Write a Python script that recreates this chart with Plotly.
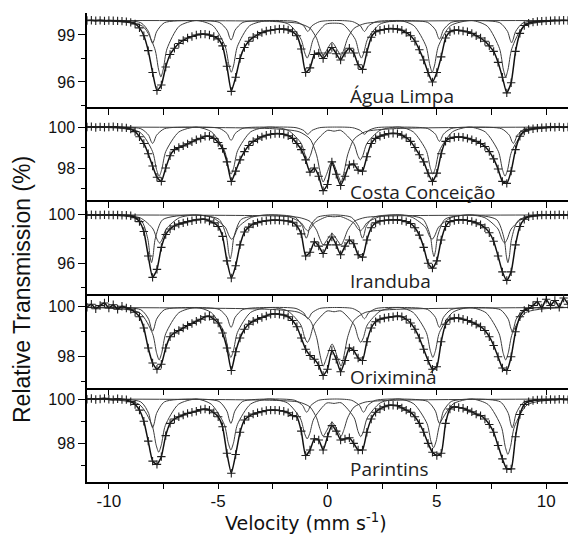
import plotly.graph_objects as go

# ---------------- data ----------------
VELOCITY = [-11.0, -10.8, -10.6, -10.4, -10.2, -10.0, -9.8, -9.6, -9.4, -9.2,
            -9.0, -8.8, -8.6, -8.4, -8.2, -8.0, -7.8, -7.6, -7.4, -7.2,
            -7.0, -6.8, -6.6, -6.4, -6.2, -6.0, -5.8, -5.6, -5.4, -5.2,
            -5.0, -4.8, -4.6, -4.4, -4.2, -4.0, -3.8, -3.6, -3.4, -3.2,
            -3.0, -2.8, -2.6, -2.4, -2.2, -2.0, -1.8, -1.6, -1.4, -1.2,
            -1.0, -0.8, -0.6, -0.4, -0.2, 0.0, 0.2, 0.4, 0.6, 0.8,
            1.0, 1.2, 1.4, 1.6, 1.8, 2.0, 2.2, 2.4, 2.6, 2.8,
            3.0, 3.2, 3.4, 3.6, 3.8, 4.0, 4.2, 4.4, 4.6, 4.8,
            5.0, 5.2, 5.4, 5.6, 5.8, 6.0, 6.2, 6.4, 6.6, 6.8,
            7.0, 7.2, 7.4, 7.6, 7.8, 8.0, 8.2, 8.4, 8.6, 8.8,
            9.0, 9.2, 9.4, 9.6, 9.8, 10.0, 10.2, 10.4, 10.6, 10.8, 11.0]

AGUA_LIMPA = [99.92, 99.94, 99.91, 99.93, 99.90, 99.92, 99.91, 99.90, 99.88, 99.85,
              99.80, 99.70, 99.45, 98.95, 98.00, 96.60, 95.45, 95.80, 96.95, 97.75,
              98.15, 98.45, 98.65, 98.80, 98.90, 99.00, 99.05, 99.05, 99.00, 98.90,
              98.75, 98.30, 97.00, 95.40, 96.30, 97.50, 98.20, 98.60, 98.85, 99.00,
              99.15, 99.25, 99.30, 99.35, 99.38, 99.38, 99.32, 99.20, 98.95, 98.10,
              96.60, 96.90, 97.75, 97.85, 97.50, 97.85, 98.20, 97.80, 97.40, 97.85,
              98.15, 97.85, 97.10, 96.80, 97.90, 98.85, 99.20, 99.30, 99.35, 99.40,
              99.40, 99.38, 99.30, 99.15, 98.95, 98.60, 98.05, 97.40, 96.60, 96.00,
              96.60, 97.60, 98.80, 99.20, 99.30, 99.30, 99.25, 99.20, 99.10, 98.95,
              98.80, 98.60, 98.30, 97.95, 97.25, 96.30, 95.30, 95.95, 97.95, 99.10,
              99.60, 99.75, 99.82, 99.86, 99.88, 99.90, 99.91, 99.93, 99.92, 99.94, 99.92]

COSTA_CONCEICAO = [100.00, 100.02, 99.98, 100.01, 99.99, 100.00, 100.02, 99.99, 99.98, 99.96,
                   99.90, 99.78, 99.53, 99.20, 98.70, 98.10, 97.55, 97.35, 98.00, 98.60,
                   98.90, 99.00, 99.08, 99.18, 99.28, 99.38, 99.45, 99.55, 99.55, 99.45,
                   99.25, 98.95, 98.30, 97.35, 97.85, 98.40, 98.80, 99.10, 99.30, 99.42,
                   99.52, 99.60, 99.65, 99.68, 99.68, 99.65, 99.58, 99.45, 99.20, 98.90,
                   98.40, 97.80, 98.00, 97.60, 96.90, 97.20, 98.30, 97.70, 97.15, 97.60,
                   98.15, 98.20, 97.90, 97.85, 98.55, 99.20, 99.45, 99.55, 99.62, 99.68,
                   99.70, 99.68, 99.60, 99.48, 99.30, 99.00, 98.65, 98.30, 97.75, 97.35,
                   97.75, 98.70, 99.30, 99.45, 99.50, 99.52, 99.50, 99.45, 99.38, 99.30,
                   99.20, 99.05, 98.80, 98.45, 97.95, 97.35, 97.25, 97.85, 98.90, 99.55,
                   99.80, 99.88, 99.92, 99.95, 99.97, 99.98, 100.00, 99.99, 100.01, 99.98, 100.00]

IRANDUBA = [99.95, 99.96, 99.94, 99.95, 99.96, 99.94, 99.95, 99.95, 99.93, 99.92,
            99.88, 99.72, 99.40, 98.60, 96.60, 94.85, 95.50, 97.30, 98.35, 98.80,
            99.05, 99.20, 99.30, 99.40, 99.48, 99.55, 99.60, 99.60, 99.45, 99.30,
            99.00, 98.20, 96.20, 94.80, 95.80, 97.50, 98.55, 98.95, 99.20, 99.32,
            99.42, 99.48, 99.52, 99.53, 99.52, 99.50, 99.45, 99.35, 99.05, 98.40,
            96.60, 96.90, 97.75, 97.40, 96.80, 97.50, 98.15, 97.50, 96.70, 97.40,
            97.90, 97.60, 96.70, 96.50, 97.90, 98.90, 99.30, 99.45, 99.50, 99.53,
            99.55, 99.55, 99.50, 99.40, 99.25, 98.90, 98.30, 97.30, 96.00, 95.60,
            96.20, 97.90, 99.00, 99.40, 99.50, 99.55, 99.55, 99.50, 99.42, 99.30,
            99.15, 98.90, 98.50, 97.80, 96.60, 95.30, 94.60, 95.30, 97.50, 99.00,
            99.60, 99.80, 99.88, 99.92, 99.94, 99.95, 99.94, 99.95, 99.96, 99.95, 99.95]

ORIXIMINA = [99.98, 100.10, 99.92, 100.05, 100.15, 99.95, 100.08, 99.90, 100.02, 99.95,
             99.90, 99.78, 99.60, 99.15, 98.35, 97.75, 97.50, 97.70, 98.35, 98.80,
             98.95, 99.05, 99.15, 99.25, 99.33, 99.42, 99.50, 99.60, 99.62, 99.50,
             99.35, 98.95, 98.35, 97.45, 98.20, 98.75, 99.10, 99.30, 99.42, 99.50,
             99.57, 99.63, 99.70, 99.72, 99.70, 99.67, 99.60, 99.45, 99.20, 98.75,
             98.30, 98.05, 97.90, 97.65, 97.25, 97.50, 98.25, 97.90, 97.40, 97.85,
             98.35, 98.25, 97.95, 97.85, 98.60, 99.15, 99.40, 99.50, 99.55, 99.58,
             99.60, 99.63, 99.60, 99.50, 99.35, 99.10, 98.75, 98.30, 97.85, 97.50,
             97.60, 98.60, 99.30, 99.50, 99.55, 99.55, 99.50, 99.45, 99.38, 99.30,
             99.20, 99.05, 98.80, 98.45, 98.00, 97.55, 97.45, 98.00, 99.00, 99.60,
             99.85, 99.93, 100.05, 100.20, 99.95, 100.30, 100.05, 100.25, 99.98, 100.35, 100.10]

PARINTINS = [99.99, 100.02, 99.98, 100.00, 100.03, 99.99, 99.97, 100.01, 99.98, 99.97,
             99.88, 99.75, 99.50, 99.00, 98.10, 97.20, 97.05, 97.40, 98.35, 98.90,
             99.10, 99.20, 99.28, 99.35, 99.40, 99.45, 99.52, 99.55, 99.50, 99.38,
             99.20, 98.75, 97.55, 96.65, 97.50, 98.50, 99.05, 99.22, 99.32, 99.38,
             99.43, 99.48, 99.50, 99.50, 99.48, 99.45, 99.38, 99.25, 99.20, 98.55,
             97.45, 97.70, 98.20, 98.15, 97.70, 98.30, 98.80, 98.55, 98.15, 98.20,
             98.25, 98.00, 97.70, 97.70, 98.50, 99.10, 99.40, 99.55, 99.65, 99.72,
             99.72, 99.70, 99.60, 99.50, 99.40, 99.20, 98.90, 98.50, 98.00, 97.60,
             97.45, 97.55, 98.90, 99.55, 99.65, 99.62, 99.58, 99.50, 99.42, 99.32,
             99.25, 99.10, 98.85, 98.50, 97.90, 97.30, 96.85, 96.85, 98.30, 99.30,
             99.75, 99.88, 99.93, 99.96, 99.97, 99.96, 99.98, 99.97, 99.99, 99.98, 99.97]

# fitted sub-spectra (velocity, transmission)
DOUBLET_V = [-11.0, -2.5, -1.3, -0.8, -0.5, -0.35, -0.2, -0.05, 0.21, 0.47, 0.62, 0.77, 0.92, 1.22, 1.72, 3.0, 11.0]

AGUA_SEXTET_A_V = [-11.0, -8.54, -8.18, -8.07, -8.0, -7.93, -7.82, -7.46, -6.2, -4.95, -4.59, -4.48, -4.41, -4.34, -4.23, -3.87, -2.65, -1.44, -1.08, -0.97, -0.9, -0.83, -0.72, -0.36, 0.4, 1.15, 1.51, 1.62, 1.69, 1.76, 1.87, 2.23, 3.4, 4.58, 4.94, 5.05, 5.12, 5.19, 5.3, 5.66, 6.8, 7.88, 8.24, 8.35, 8.42, 8.49, 8.6, 8.96, 11.0]
AGUA_SEXTET_A_T = [99.92, 99.78, 99.2, 98.67, 98.47, 98.67, 99.2, 99.78, 99.92, 99.8, 99.3, 98.84, 98.67, 98.84, 99.3, 99.8, 99.92, 99.85, 99.57, 99.32, 99.22, 99.32, 99.57, 99.85, 99.92, 99.85, 99.57, 99.32, 99.22, 99.32, 99.57, 99.85, 99.92, 99.8, 99.32, 98.89, 98.72, 98.89, 99.32, 99.8, 99.92, 99.78, 99.21, 98.7, 98.5, 98.7, 99.21, 99.78, 99.92]
AGUA_SEXTET_B_V = [-11.0, -8.46, -7.9, -7.73, -7.62, -7.51, -7.34, -6.78, -6.0, -5.24, -4.68, -4.51, -4.4, -4.29, -4.12, -3.56, -2.7, -1.77, -1.21, -1.04, -0.93, -0.82, -0.65, -0.09, 0.31, 0.71, 1.27, 1.44, 1.55, 1.66, 1.83, 2.39, 3.3, 3.95, 4.51, 4.68, 4.79, 4.9, 5.07, 5.63, 6.6, 7.31, 7.87, 8.04, 8.15, 8.26, 8.43, 8.99, 11.0]
AGUA_SEXTET_B_T = [99.92, 99.56, 98.12, 96.82, 96.32, 96.82, 98.12, 99.56, 99.92, 99.59, 98.27, 97.08, 96.62, 97.08, 98.27, 99.59, 99.92, 99.68, 98.72, 97.85, 97.52, 97.85, 98.72, 99.68, 99.75, 99.68, 98.72, 97.85, 97.52, 97.85, 98.72, 99.68, 99.92, 99.59, 98.27, 97.08, 96.62, 97.08, 98.27, 99.59, 99.92, 99.56, 98.12, 96.82, 96.32, 96.82, 98.12, 99.56, 99.92]
AGUA_DOUBLET_T = [99.92, 99.86, 99.73, 99.43, 98.79, 98.15, 97.68, 97.99, 98.53, 97.99, 97.68, 98.15, 98.79, 99.43, 99.73, 99.86, 99.92]

COSTA_SEXTET_A_V = [-11.0, -8.54, -8.18, -8.07, -8.0, -7.93, -7.82, -7.46, -6.2, -4.95, -4.59, -4.48, -4.41, -4.34, -4.23, -3.87, -2.65, -1.44, -1.08, -0.97, -0.9, -0.83, -0.72, -0.36, 0.4, 1.15, 1.51, 1.62, 1.69, 1.76, 1.87, 2.23, 3.4, 4.58, 4.94, 5.05, 5.12, 5.19, 5.3, 5.66, 6.8, 7.96, 8.32, 8.43, 8.5, 8.57, 8.68, 9.04, 11.0]
COSTA_SEXTET_A_T = [100, 99.92, 99.6, 99.31, 99.2, 99.31, 99.6, 99.92, 100, 99.94, 99.68, 99.44, 99.35, 99.44, 99.68, 99.94, 100, 99.97, 99.83, 99.7, 99.65, 99.7, 99.83, 99.97, 100, 99.97, 99.83, 99.7, 99.65, 99.7, 99.83, 99.97, 100, 99.93, 99.65, 99.4, 99.3, 99.4, 99.65, 99.93, 100, 99.92, 99.6, 99.31, 99.2, 99.31, 99.6, 99.92, 100]
COSTA_SEXTET_B_V = [-11.0, -8.6, -8.0, -7.82, -7.7, -7.58, -7.4, -6.8, -6.0, -5.31, -4.71, -4.53, -4.41, -4.29, -4.11, -3.51, -2.7, -1.8, -1.2, -1.02, -0.9, -0.78, -0.6, 0.0, 0.3, 0.6, 1.2, 1.38, 1.5, 1.62, 1.8, 2.4, 3.3, 3.92, 4.52, 4.7, 4.82, 4.94, 5.12, 5.72, 6.5, 7.22, 7.82, 8.0, 8.12, 8.24, 8.42, 9.02, 11.0]
COSTA_SEXTET_B_T = [100, 99.76, 98.8, 97.93, 97.6, 97.93, 98.8, 99.76, 100, 99.77, 98.85, 98.02, 97.7, 98.02, 98.85, 99.77, 100, 99.84, 99.2, 98.62, 98.4, 98.62, 99.2, 99.84, 99.8, 99.84, 99.2, 98.62, 98.4, 98.62, 99.2, 99.84, 100, 99.77, 98.85, 98.02, 97.7, 98.02, 98.85, 99.77, 100, 99.76, 98.8, 97.93, 97.6, 97.93, 98.8, 99.76, 100]
COSTA_DOUBLET_T = [100, 99.92, 99.77, 99.42, 98.64, 97.87, 97.32, 97.68, 98.33, 97.68, 97.32, 97.87, 98.64, 99.42, 99.77, 99.92, 100]

IRANDUBA_SEXTET_A_V = [-11.0, -8.56, -8.22, -8.12, -8.05, -7.98, -7.88, -7.54, -6.2, -4.96, -4.62, -4.52, -4.45, -4.38, -4.28, -3.94, -2.7, -1.48, -1.14, -1.04, -0.97, -0.9, -0.8, -0.46, 0.3, 1.09, 1.43, 1.53, 1.6, 1.67, 1.77, 2.11, 3.4, 4.36, 4.7, 4.8, 4.87, 4.94, 5.04, 5.38, 6.6, 7.74, 8.08, 8.18, 8.25, 8.32, 8.42, 8.76, 11.0]
IRANDUBA_SEXTET_A_T = [99.95, 99.56, 98.0, 96.59, 96.05, 96.59, 98.0, 99.56, 99.95, 99.59, 98.15, 96.85, 96.35, 96.85, 98.15, 99.59, 99.95, 99.76, 99.0, 98.31, 98.05, 98.31, 99.0, 99.76, 99.95, 99.76, 99.0, 98.31, 98.05, 98.31, 99.0, 99.76, 99.95, 99.61, 98.25, 97.02, 96.55, 97.02, 98.25, 99.61, 99.95, 99.56, 98.0, 96.59, 96.05, 96.59, 98.0, 99.56, 99.95]
IRANDUBA_SEXTET_B_V = [-11.0, -8.58, -7.98, -7.8, -7.68, -7.56, -7.38, -6.78, -6.0, -5.28, -4.68, -4.5, -4.38, -4.26, -4.08, -3.48, -2.7, -1.8, -1.2, -1.02, -0.9, -0.78, -0.6, 0.0, 0.3, 0.6, 1.2, 1.38, 1.5, 1.62, 1.8, 2.4, 3.3, 3.88, 4.48, 4.66, 4.78, 4.9, 5.08, 5.68, 6.5, 7.2, 7.8, 7.98, 8.1, 8.22, 8.4, 9.0, 11.0]
IRANDUBA_SEXTET_B_T = [99.95, 99.72, 98.8, 97.97, 97.65, 97.97, 98.8, 99.72, 99.95, 99.75, 98.95, 98.23, 97.95, 98.23, 98.95, 99.75, 99.95, 99.82, 99.3, 98.83, 98.65, 98.83, 99.3, 99.82, 99.8, 99.82, 99.3, 98.83, 98.65, 98.83, 99.3, 99.82, 99.95, 99.75, 98.95, 98.23, 97.95, 98.23, 98.95, 99.75, 99.95, 99.72, 98.8, 97.97, 97.65, 97.97, 98.8, 99.72, 99.95]
IRANDUBA_DOUBLET_T = [99.95, 99.87, 99.74, 99.42, 98.7, 98.0, 97.49, 97.83, 98.42, 97.83, 97.49, 98.0, 98.7, 99.42, 99.74, 99.87, 99.95]

ORIX_SEXTET_A_V = [-11.0, -8.54, -8.18, -8.07, -8.0, -7.93, -7.82, -7.46, -6.2, -4.95, -4.59, -4.48, -4.41, -4.34, -4.23, -3.87, -2.65, -1.44, -1.08, -0.97, -0.9, -0.83, -0.72, -0.36, 0.4, 1.15, 1.51, 1.62, 1.69, 1.76, 1.87, 2.23, 3.4, 4.58, 4.94, 5.05, 5.12, 5.19, 5.3, 5.66, 6.8, 7.91, 8.27, 8.38, 8.45, 8.52, 8.63, 8.99, 11.0]
ORIX_SEXTET_A_T = [99.97, 99.88, 99.5, 99.15, 99.02, 99.15, 99.5, 99.88, 99.97, 99.89, 99.57, 99.28, 99.17, 99.28, 99.57, 99.89, 99.97, 99.93, 99.75, 99.58, 99.52, 99.58, 99.75, 99.93, 99.97, 99.93, 99.75, 99.58, 99.52, 99.58, 99.75, 99.93, 99.97, 99.89, 99.57, 99.28, 99.17, 99.28, 99.57, 99.89, 99.97, 99.88, 99.5, 99.15, 99.02, 99.15, 99.5, 99.88, 99.97]
ORIX_SEXTET_B_V = [-11.0, -8.6, -8.0, -7.82, -7.7, -7.58, -7.4, -6.8, -6.0, -5.32, -4.72, -4.54, -4.42, -4.3, -4.12, -3.52, -2.7, -1.82, -1.22, -1.04, -0.92, -0.8, -0.62, -0.02, 0.3, 0.62, 1.22, 1.4, 1.52, 1.64, 1.82, 2.42, 3.3, 3.92, 4.52, 4.7, 4.82, 4.94, 5.12, 5.72, 6.5, 7.25, 7.85, 8.03, 8.15, 8.27, 8.45, 9.05, 11.0]
ORIX_SEXTET_B_T = [99.97, 99.76, 98.92, 98.16, 97.87, 98.16, 98.92, 99.76, 99.97, 99.77, 98.97, 98.25, 97.97, 98.25, 98.97, 99.77, 99.97, 99.83, 99.27, 98.76, 98.57, 98.76, 99.27, 99.83, 99.8, 99.83, 99.27, 98.76, 98.57, 98.76, 99.27, 99.83, 99.97, 99.77, 98.97, 98.25, 97.97, 98.25, 98.97, 99.77, 99.97, 99.76, 98.92, 98.16, 97.87, 98.16, 98.92, 99.76, 99.97]
ORIX_DOUBLET_T = [99.97, 99.89, 99.77, 99.46, 98.78, 98.11, 97.62, 97.94, 98.51, 97.94, 97.62, 98.11, 98.78, 99.46, 99.77, 99.89, 99.97]

PARIN_SEXTET_A_V = [-11.0, -8.54, -8.18, -8.07, -8.0, -7.93, -7.82, -7.46, -6.2, -4.96, -4.6, -4.49, -4.42, -4.35, -4.24, -3.88, -2.65, -1.49, -1.13, -1.02, -0.95, -0.88, -0.77, -0.41, 0.4, 1.11, 1.47, 1.58, 1.65, 1.72, 1.83, 2.19, 3.4, 4.58, 4.94, 5.05, 5.12, 5.19, 5.3, 5.66, 6.8, 7.91, 8.27, 8.38, 8.45, 8.52, 8.63, 8.99, 11.0]
PARIN_SEXTET_A_T = [100, 99.87, 99.35, 98.88, 98.7, 98.88, 99.35, 99.87, 100, 99.89, 99.45, 99.05, 98.9, 99.05, 99.45, 99.89, 100, 99.94, 99.7, 99.48, 99.4, 99.48, 99.7, 99.94, 100, 99.94, 99.7, 99.48, 99.4, 99.48, 99.7, 99.94, 100, 99.89, 99.45, 99.05, 98.9, 99.05, 99.45, 99.89, 100, 99.87, 99.35, 98.88, 98.7, 98.88, 99.35, 99.87, 100]
PARIN_SEXTET_B_V = [-11.0, -8.62, -8.02, -7.84, -7.72, -7.6, -7.42, -6.82, -6.0, -5.32, -4.72, -4.54, -4.42, -4.3, -4.12, -3.52, -2.7, -1.83, -1.23, -1.05, -0.93, -0.81, -0.63, -0.03, 0.3, 0.62, 1.22, 1.4, 1.52, 1.64, 1.82, 2.42, 3.3, 3.95, 4.55, 4.73, 4.85, 4.97, 5.15, 5.75, 6.6, 7.35, 7.95, 8.13, 8.25, 8.37, 8.55, 9.15, 11.0]
PARIN_SEXTET_B_T = [100, 99.76, 98.8, 97.93, 97.6, 97.93, 98.8, 99.76, 100, 99.77, 98.85, 98.02, 97.7, 98.02, 98.85, 99.77, 100, 99.82, 99.1, 98.45, 98.2, 98.45, 99.1, 99.82, 99.8, 99.83, 99.15, 98.53, 98.3, 98.53, 99.15, 99.83, 100, 99.78, 98.9, 98.1, 97.8, 98.1, 98.9, 99.78, 100, 99.75, 98.75, 97.85, 97.5, 97.85, 98.75, 99.75, 100]
PARIN_DOUBLET_T = [100, 99.94, 99.86, 99.64, 99.15, 98.67, 98.32, 98.55, 98.95, 98.55, 98.32, 98.67, 99.15, 99.64, 99.86, 99.94, 100]

SAMPLE_NAMES = ["Água Limpa", "Costa Conceição", "Iranduba", "Oriximiná", "Parintins"]
SPECTRA = [AGUA_LIMPA, COSTA_CONCEICAO, IRANDUBA, ORIXIMINA, PARINTINS]
SUBSPECTRA = [
    [(AGUA_SEXTET_A_V, AGUA_SEXTET_A_T), (AGUA_SEXTET_B_V, AGUA_SEXTET_B_T), (DOUBLET_V, AGUA_DOUBLET_T)],
    [(COSTA_SEXTET_A_V, COSTA_SEXTET_A_T), (COSTA_SEXTET_B_V, COSTA_SEXTET_B_T), (DOUBLET_V, COSTA_DOUBLET_T)],
    [(IRANDUBA_SEXTET_A_V, IRANDUBA_SEXTET_A_T), (IRANDUBA_SEXTET_B_V, IRANDUBA_SEXTET_B_T), (DOUBLET_V, IRANDUBA_DOUBLET_T)],
    [(ORIX_SEXTET_A_V, ORIX_SEXTET_A_T), (ORIX_SEXTET_B_V, ORIX_SEXTET_B_T), (DOUBLET_V, ORIX_DOUBLET_T)],
    [(PARIN_SEXTET_A_V, PARIN_SEXTET_A_T), (PARIN_SEXTET_B_V, PARIN_SEXTET_B_T), (DOUBLET_V, PARIN_DOUBLET_T)],
]
Y_MAJOR_TICKS = [[96, 99], [98, 100], [96, 100], [98, 100], [98, 100]]
X_TICKS = [-10, -5, 0, 5, 10]
X_TICK_LABELS = ["-10", "-5", "0", "5", "10"]

# ---------------- layout geometry ----------------
W, H = 568, 536
PANEL_PX = [(13, 107), (107, 200), (200, 294), (294, 387.7), (387.7, 481.7)]
Y_RANGES = [(94.40, 100.40), (96.44, 100.98), (93.49, 101.17), (96.76, 100.51), (96.27, 100.51)]
Y_MINOR = [1.5, 1, 2, 1, 1]
LABEL_PX = [96, 192, 281, 377, 469]

fig = go.Figure()
layout = dict(
    width=W, height=H,
    margin=dict(l=87, r=0, t=0, b=0),
    paper_bgcolor="white", plot_bgcolor="white",
    showlegend=False,
    annotations=[],
)

for i in range(5):
    k = i + 1
    xa = "x" if k == 1 else f"x{k}"
    ya = "y" if k == 1 else f"y{k}"
    for cv, ct in SUBSPECTRA[i]:
        fig.add_trace(go.Scatter(
            x=cv, y=ct, mode="lines", xaxis=xa, yaxis=ya,
            line=dict(color="#3c3c3c", width=1, shape="spline", smoothing=0.7),
            hoverinfo="skip"))
    fig.add_trace(go.Scatter(
        x=VELOCITY, y=SPECTRA[i], mode="lines+markers", xaxis=xa, yaxis=ya,
        line=dict(color="#111111", width=1.5, shape="spline", smoothing=0.5),
        marker=dict(symbol="cross-thin", size=6, line=dict(width=1.1, color="#1e1e1e")),
        hoverinfo="skip"))

    top_px, bot_px = PANEL_PX[i]
    dom = [1 - bot_px / H, 1 - top_px / H]
    xkey = "xaxis" if k == 1 else f"xaxis{k}"
    ykey = "yaxis" if k == 1 else f"yaxis{k}"
    layout[xkey] = dict(
        domain=[0, 1], anchor=ya, range=[-11, 11],
        showline=True, linecolor="black", linewidth=1.5, mirror=False,
        ticks="outside", ticklen=6, tickwidth=1.3, tickcolor="black",
        tickmode="array", tickvals=X_TICKS, ticktext=X_TICK_LABELS,
        showticklabels=(k == 5),
        tickfont=dict(family="Liberation Sans, Arial, sans-serif", size=17, color="#111"),
        minor=dict(ticks="outside", ticklen=6, tickwidth=1.3, tickcolor="black", dtick=2.5, tick0=0),
        showgrid=False, zeroline=False, fixedrange=True,
    )
    if k == 5:
        layout[xkey]["ticklabelstandoff"] = -3
    if k != 1:
        layout[xkey]["matches"] = "x"
    layout[ykey] = dict(
        domain=dom, anchor=xa, range=list(Y_RANGES[i]),
        showline=True, linecolor="black", linewidth=1.5,
        ticks="outside", ticklen=7, tickwidth=1.3, tickcolor="black",
        tickmode="array", tickvals=Y_MAJOR_TICKS[i],
        ticktext=[str(v) for v in Y_MAJOR_TICKS[i]],
        tickfont=dict(family="Liberation Sans, Arial, sans-serif", size=16, color="#111"),
        minor=dict(ticks="outside", ticklen=4, tickwidth=1.2, tickcolor="black", dtick=Y_MINOR[i], tick0=0),
        showgrid=False, zeroline=False, fixedrange=True,
    )
    layout["annotations"].append(dict(
        text=SAMPLE_NAMES[i], xref=xa, yref="paper",
        x=0.95, y=1 - LABEL_PX[i] / H, xanchor="left", yanchor="middle",
        showarrow=False, font=dict(family="Open Sans, Noto Sans, sans-serif", size=19, color="#222")))

layout["annotations"].append(dict(
    text="Velocity (mm s<sup>-1</sup>)", xref="paper", yref="paper",
    x=(306 - 87) / 481, y=1 - 522 / H, xanchor="center", yanchor="middle",
    showarrow=False, font=dict(family="DejaVu Sans, Verdana, sans-serif", size=19, color="#111")))
layout["annotations"].append(dict(
    text="Relative Transmission (%)", xref="paper", yref="paper",
    x=(22 - 87) / 481, y=1 - 290 / H, xanchor="center", yanchor="middle",
    textangle=-90, showarrow=False,
    font=dict(family="Liberation Sans, Arial, sans-serif", size=23, color="#111")))

fig.update_layout(**layout)
fig.write_html("out.html")
